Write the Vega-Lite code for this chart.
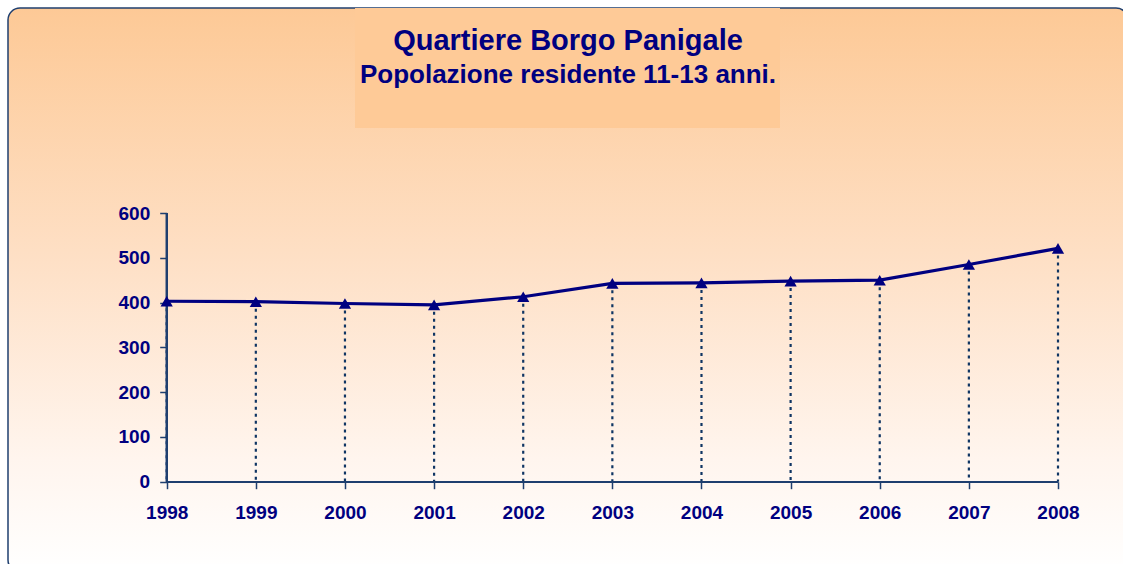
{
  "$schema": "https://vega.github.io/schema/vega-lite/v6.json",
  "width": 1120,
  "height": 564,
  "autosize": {"type": "none"},
  "padding": {"left": 8, "top": 8, "right": 0, "bottom": 0},
  "background": "white",
  "title": {
    "text": "Quartiere Borgo Panigale",
    "subtitle": "Popolazione residente 11-13 anni.",
    "anchor": "middle",
    "frame": "group",
    "orient": "top",
    "offset": -80,
    "font": "Liberation Sans",
    "fontSize": 29,
    "fontWeight": "bold",
    "color": "#000080",
    "subtitleFont": "Liberation Sans",
    "subtitleFontSize": 26,
    "subtitleFontWeight": "bold",
    "subtitleColor": "#000080",
    "subtitlePadding": 6
  },
  "config": {
    "view": {
      "fill": {
        "gradient": "linear",
        "x1": 0, "y1": 0, "x2": 0, "y2": 1,
        "stops": [
          {"offset": 0, "color": "#FDC996"},
          {"offset": 0.45, "color": "#FEE0C6"},
          {"offset": 0.8, "color": "#FFF5EE"},
          {"offset": 1, "color": "#FFFFFF"}
        ]
      },
      "stroke": "#1F3F6F",
      "strokeWidth": 1.5,
      "cornerRadius": 12
    }
  },
  "data": {
    "values": [
      {"anno": 1998, "popolazione": 403},
      {"anno": 1999, "popolazione": 402},
      {"anno": 2000, "popolazione": 398},
      {"anno": 2001, "popolazione": 395},
      {"anno": 2002, "popolazione": 413},
      {"anno": 2003, "popolazione": 443},
      {"anno": 2004, "popolazione": 444},
      {"anno": 2005, "popolazione": 448},
      {"anno": 2006, "popolazione": 450},
      {"anno": 2007, "popolazione": 485},
      {"anno": 2008, "popolazione": 521}
    ]
  },
  "layer": [
    {
      "mark": {"type": "rect", "color": "#FECA97", "opacity": 1},
      "encoding": {
        "x": {"datum": 2000.1127, "type": "quantitative",
          "scale": {"domain": [1996.21946, 2008.78537], "nice": false, "zero": false},
          "axis": {
            "values": [1998, 1999, 2000, 2001, 2002, 2003, 2004, 2005, 2006, 2007, 2008],
            "format": "d", "offset": -90.3, "domain": false, "grid": false,
            "tickSize": 7, "tickColor": "#1F3F6F", "tickWidth": 1.5,
            "labelFont": "Liberation Sans", "labelFontWeight": "bold", "labelFontSize": 19,
            "labelColor": "#000080", "labelPadding": 15, "labelOverlap": false, "labelFlush": false,
            "title": null
          }
        },
        "x2": {"datum": 2004.881},
        "y": {"datum": 789.8, "type": "quantitative",
          "scale": {"domain": [-201.6, 1057.8], "nice": false, "zero": false},
          "axis": {
            "values": [0, 100, 200, 300, 400, 500, 600],
            "offset": -158.7, "domain": false, "grid": false,
            "tickSize": 7, "tickColor": "#1F3F6F", "tickWidth": 1.5,
            "labelFont": "Liberation Sans", "labelFontWeight": "bold", "labelFontSize": 19,
            "labelColor": "#000080", "labelPadding": 10, "labelOverlap": false, "labelFlush": false,
            "title": null
          }
        },
        "y2": {"datum": 1057.8}
      }
    },
    {
      "mark": {"type": "rule", "strokeDash": [3, 4], "color": "#0F3563", "strokeWidth": 2.2},
      "encoding": {
        "x": {"field": "anno", "type": "quantitative"},
        "y": {"field": "popolazione", "type": "quantitative"},
        "y2": {"datum": 0}
      }
    },
    {
      "mark": {"type": "rule", "color": "#1F3F6F", "strokeWidth": 1.5},
      "encoding": {
        "x": {"datum": 1998, "type": "quantitative"},
        "x2": {"datum": 2008},
        "y": {"datum": 0, "type": "quantitative"}
      }
    },
    {
      "mark": {"type": "rule", "color": "#1F3F6F", "strokeWidth": 1.5},
      "encoding": {
        "x": {"datum": 1998, "type": "quantitative"},
        "y": {"datum": 0, "type": "quantitative"},
        "y2": {"datum": 600}
      }
    },
    {
      "mark": {"type": "line", "color": "#000080", "strokeWidth": 3.2,
        "point": {"shape": "triangle-up", "filled": true, "size": 150, "color": "#000080", "opacity": 1}},
      "encoding": {
        "x": {"field": "anno", "type": "quantitative"},
        "y": {"field": "popolazione", "type": "quantitative"}
      }
    }
  ]
}
